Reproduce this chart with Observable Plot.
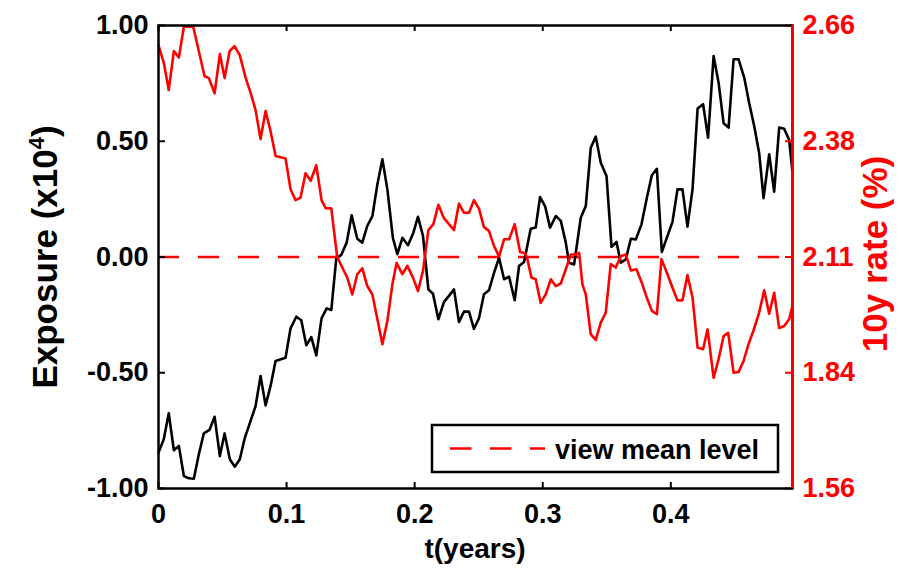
<!DOCTYPE html>
<html>
<head>
<meta charset="utf-8">
<script src="https://cdn.jsdelivr.net/npm/d3@7"></script>
<script src="https://cdn.jsdelivr.net/npm/@observablehq/plot@0.6"></script>
<style>
  body { margin: 0; background: #fff; }
  #chart svg { display: block; }
</style>
</head>
<body>
<div id="chart"></div>
<script>
// ---- data ----
const expT = [0.000,0.0041,0.0080,0.0120,0.0159,0.0198,0.0237,0.0276,0.0315,0.0354,
  0.0398,0.0438,0.0479,0.0516,0.0557,0.0596,0.0635,0.0674,0.0719,0.0758,
  0.0797,0.0836,0.0875,0.0914,0.0992,0.1031,0.1076,0.1115,0.1154,0.1193,
  0.1232,0.1273,0.1313,0.1349,0.1388,0.1427,0.1469,0.1508,0.1552,0.1591,
  0.1630,0.1670,0.1709,0.1748,0.1787,0.1830,0.1865,0.1904,0.1948,0.1990,
  0.2026,0.2065,
  0.2107,0.2143,0.2185,0.2229,0.2268,0.2307,0.2346,0.2385,0.2424,0.2463,
  0.2502,0.2541,0.2580,0.2620,0.2659,0.2698,0.2737,0.2781,0.2815,0.2854,
  0.2906,0.2945,0.2979,0.3018,0.3057,0.3102,0.3141,0.3180,0.3205,0.3245,
  0.3297,0.3336,0.3375,0.3414,0.3453,0.3498,0.3537,0.3576,0.3609,0.3648,
  0.3688,0.3727,0.3771,0.3813,0.3852,0.3891,0.3930,0.3974,0.4013,0.4052,
  0.4091,0.4130,0.4170,0.4209,0.4252,0.4291,0.4334,0.4373,0.4412,0.4451,
  0.4490,0.4529,0.4573,0.4612,0.4651,0.4690,0.4724,0.4768,0.4807,0.4846,
  0.4885,0.4924,0.4950];
const expV = [-0.845,-0.787,-0.675,-0.835,-0.816,-0.946,-0.956,-0.958,-0.852,-0.762,
  -0.747,-0.690,-0.860,-0.762,-0.874,-0.906,-0.874,-0.781,-0.708,-0.644,
  -0.514,-0.641,-0.557,-0.449,-0.435,-0.308,-0.258,-0.273,-0.381,-0.346,
  -0.425,-0.265,-0.222,-0.229,-0.006,0.009,0.062,0.180,0.079,0.062,
  0.134,0.177,0.314,0.422,0.292,0.083,0.012,0.083,0.051,0.105,
  0.174,0.091,
  -0.140,-0.159,-0.269,-0.194,-0.168,-0.140,-0.281,-0.236,-0.236,-0.310,
  -0.265,-0.161,-0.144,-0.068,-0.003,-0.096,-0.085,-0.187,-0.039,-0.022,
  0.122,0.127,0.259,0.220,0.127,0.177,0.156,0.062,-0.025,-0.032,
  0.170,0.220,0.472,0.520,0.407,0.350,0.044,0.065,-0.025,-0.010,
  0.079,0.076,0.141,0.256,0.353,0.381,0.022,0.091,0.152,0.292,
  0.292,0.131,0.295,0.641,0.660,0.515,0.868,0.753,0.578,0.559,
  0.854,0.854,0.775,0.664,0.566,0.448,0.254,0.444,0.282,0.559,
  0.554,0.505,0.364];

const rateT = [0.000,0.0041,0.0080,0.0120,0.0159,0.0198,0.0271,0.0315,0.0359,0.0393,
  0.0438,0.0479,0.0516,0.0555,0.0594,0.0635,0.0680,0.0719,0.0758,0.0797,
  0.0836,0.0875,0.0914,0.0992,0.1031,0.1070,0.1109,0.1148,0.1188,0.1232,
  0.1273,0.1305,0.1349,0.1395,0.1474,0.1513,0.1552,0.1591,0.1630,0.1670,
  0.1709,0.1748,0.1787,0.1826,0.1859,0.1904,0.1943,0.1987,0.2026,0.2065,
  0.2107,0.2146,0.2185,0.2229,0.2268,0.2307,0.2346,0.2385,0.2424,0.2463,
  0.2502,0.2541,0.2580,0.2620,0.2659,0.2698,0.2737,0.2781,0.2823,0.2862,
  0.2880,0.2912,0.2945,0.2984,0.3023,0.3063,0.3102,0.3141,0.3180,0.3219,
  0.3258,0.3284,0.3310,0.3336,0.3375,0.3414,0.3453,0.3492,0.3531,0.3570,
  0.3609,0.3648,0.3688,0.3732,0.3773,0.3813,0.3852,0.3891,0.3927,0.3974,
  0.4013,0.4052,0.4091,0.4130,0.4170,0.4209,0.4252,0.4287,0.4334,0.4373,
  0.4412,0.4448,0.4490,0.4529,0.4568,0.4607,0.4646,0.4690,0.4729,0.4768,
  0.4807,0.4846,0.4885,0.4924,0.4950];
const rateV = [2.613,2.572,2.507,2.599,2.584,2.657,2.657,2.599,2.540,2.535,
  2.499,2.592,2.535,2.599,2.611,2.589,2.536,2.500,2.459,2.390,
  2.457,2.409,2.350,2.344,2.271,2.245,2.251,2.309,2.291,2.328,
  2.245,2.226,2.226,2.110,2.061,2.021,2.069,2.083,2.041,2.021,
  1.962,1.903,1.958,2.045,2.096,2.069,2.089,2.061,2.029,2.077,
  2.174,2.188,2.234,2.202,2.188,2.174,2.237,2.215,2.215,2.245,
  2.225,2.181,2.172,2.136,2.111,2.152,2.152,2.188,2.122,2.119,
  2.105,2.061,2.057,2.001,2.021,2.057,2.041,2.047,2.081,2.116,
  2.116,2.120,2.045,2.021,1.926,1.913,1.954,1.978,2.093,2.085,
  2.112,2.116,2.078,2.081,2.049,2.013,1.982,1.974,2.105,2.069,
  2.037,2.007,2.007,2.067,2.013,1.895,1.891,1.938,1.823,1.867,
  1.922,1.930,1.835,1.837,1.863,1.903,1.936,1.978,2.031,1.975,
  2.025,1.941,1.946,1.962,1.994];

const viewMeanLevel = 2.11;          // 10y rate mean level (dashed line)
const rateHalfSpan = 0.55;           // rate axis spans mean ± this
const xDomain = [0, 0.495];
const xTicks = [0, 0.1, 0.2, 0.3, 0.4];
const xTickLabels = ["0", "0.1", "0.2", "0.3", "0.4"];
const expTicks = [-1, -0.5, 0, 0.5, 1];
const expTickLabels = ["-1.00", "-0.50", "0.00", "0.50", "1.00"];
const rateTicks = [1.56, 1.835, 2.11, 2.385, 2.66];
const rateTickLabels = ["1.56", "1.84", "2.11", "2.38", "2.66"];
const legendLabel = "view mean level";

// ---- layout ----
const W = 905, H = 570;
const mL = 158, mR = 113, mT = 25, mB = 82;
const plotW = W - mL - mR, plotH = H - mT - mB;
const FONT = "'Liberation Sans', Arial, Helvetica, sans-serif";

// rate -> position on the (shared) exposure y scale
const rateToY = r => (r - viewMeanLevel) / rateHalfSpan;

const expData = expT.map((t, i) => ({t, v: expV[i]}));
const rateData = rateT.map((t, i) => ({t, y: rateToY(rateV[i])}));

const chart = Plot.plot({
  width: W, height: H,
  marginLeft: mL, marginRight: mR, marginTop: mT, marginBottom: mB,
  style: {fontFamily: FONT, fontSize: "27px", fontWeight: "bold", background: "white", color: "black"},
  x: {domain: xDomain},
  y: {domain: [-1, 1]},
  marks: [
    Plot.ruleY([rateToY(viewMeanLevel)], {stroke: "#ff0000", strokeWidth: 2.5, strokeDasharray: "21,19"}),
    Plot.lineY(expData, {x: "t", y: "v", stroke: "black", strokeWidth: 2.6}),
    Plot.lineY(rateData, {x: "t", y: "y", stroke: "#ff0000", strokeWidth: 2.6}),
    // inward ticks
    Plot.tickY(expTicks, {y: d => d, stroke: "black", strokeWidth: 2, insetRight: plotW - 7}),
    Plot.tickY(rateTicks, {y: d => rateToY(d), stroke: "#ff0000", strokeWidth: 2, insetLeft: plotW - 7}),
    Plot.tickX(xTicks, {x: d => d, stroke: "black", strokeWidth: 2, insetBottom: plotH - 6}),
    Plot.tickX(xTicks, {x: d => d, stroke: "black", strokeWidth: 2, insetTop: plotH - 6}),
    // frame
    Plot.frame({stroke: "black", strokeWidth: 2.5}),
    Plot.ruleX([xDomain[1]], {stroke: "#ff0000", strokeWidth: 2.5}),
    // axes (labels only)
    Plot.axisX({ticks: xTicks, tickSize: 0, tickPadding: 15, label: null,
      tickFormat: d => xTickLabels[xTicks.indexOf(d)]}),
    Plot.axisY({anchor: "left", ticks: expTicks, tickSize: 0, tickPadding: 10, label: null,
      tickFormat: d => expTickLabels[expTicks.indexOf(d)]}),
    Plot.axisY({anchor: "right", ticks: rateTicks.map(rateToY), tickSize: 0, tickPadding: 10, label: null,
      fill: "#ff0000",
      tickFormat: d => rateTickLabels[rateTicks.map(rateToY).indexOf(d)]})
  ]
});

document.getElementById("chart").appendChild(chart);

// ---- titles and legend ----
const svg = d3.select(chart);
const t1 = svg.append("text")
  .attr("transform", "translate(44,257) rotate(-90)")
  .attr("text-anchor", "middle").attr("dy", "0.36em")
  .style("font-family", FONT).style("font-weight", "bold").style("font-size", "35px")
  .attr("fill", "black");
t1.append("tspan").text("Exposure (x10");
t1.append("tspan").attr("dy", "-13").style("font-size", "22px").text("4");
t1.append("tspan").attr("dy", "13").text(")");

svg.append("text")
  .attr("transform", "translate(874,254) rotate(-90)")
  .attr("text-anchor", "middle").attr("dy", "0.36em")
  .style("font-family", FONT).style("font-weight", "bold").style("font-size", "35px")
  .attr("fill", "#ff0000")
  .text("10y rate (%)");

svg.append("text")
  .attr("x", 475).attr("y", 558)
  .attr("text-anchor", "middle")
  .style("font-family", FONT).style("font-weight", "bold").style("font-size", "28px")
  .attr("fill", "black")
  .text("t(years)");

const lg = svg.append("g");
lg.append("rect").attr("x", 432).attr("y", 425).attr("width", 346).attr("height", 47)
  .attr("fill", "white").attr("stroke", "black").attr("stroke-width", 2.5);
lg.append("line").attr("x1", 450).attr("x2", 545).attr("y1", 448.5).attr("y2", 448.5)
  .attr("stroke", "#ff0000").attr("stroke-width", 2.5).attr("stroke-dasharray", "21.5,18.5");
lg.append("text").attr("x", 555).attr("y", 459)
  .attr("text-anchor", "start")
  .style("font-family", FONT).style("font-weight", "bold").style("font-size", "27px")
  .attr("fill", "black").text(legendLabel);
</script>
</body>
</html>
